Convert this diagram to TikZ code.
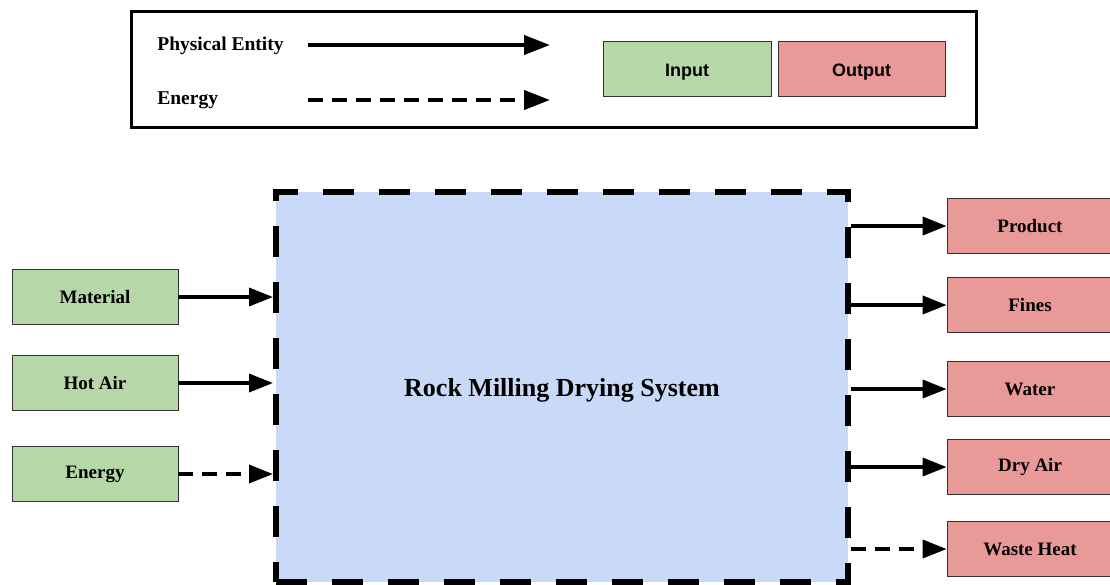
\documentclass[tikz,border=0pt]{standalone}
\usepackage{fontspec}
\setmainfont{Liberation Serif}
\setsansfont{Liberation Sans}
\usetikzlibrary{arrows.meta}

\tikzset{every picture/.style={line width=0.75pt}}
\tikzset{
	inbox/.style={draw={rgb, 255:red, 51; green, 51; blue, 51 }, fill={rgb, 255:red, 182; green, 215; blue, 168 }, minimum width=166pt, minimum height=55pt, inner sep=0pt, font=\fontsize{19}{22}\selectfont\bfseries},
	outbox/.style={inbox, fill={rgb, 255:red, 234; green, 153; blue, 153 }},
	keybox/.style={text height=18pt, text depth=2pt, font=\fontsize{18}{21}\selectfont\sffamily\bfseries},
	keytext/.style={anchor=west, inner sep=0pt, font=\fontsize{19.5}{22}\selectfont\bfseries},
	flow/.style={-{Triangle[length=24pt,width=18pt]}, line width=3.5pt},
	eflow/.style={flow, dash pattern=on 15pt off 9pt},
}

\begin{document}
\begin{tikzpicture}[x=1pt,y=-1pt]
	\useasboundingbox (0,0) rectangle (1110,584);
	
	%Legend frame
	\draw [line width=3pt] (131,11) rectangle (976,127) ;
	% Text Node
	\node [keytext] (lgphys) at (157,46) {Physical Entity};
	% Text Node
	\node [keytext] (lgener) at (157,100) {Energy};
	\coordinate (lgphysA) at (308,45);
	\coordinate (lgphysB) at (550,45);
	\coordinate (lgenerA) at (308,100);
	\coordinate (lgenerB) at (550,100);
	%Straight Lines
	\draw [flow, line width=4pt, -{Triangle[length=26pt,width=19pt]}] (lgphysA) -- (lgphysB) ;
	\draw [eflow, line width=4pt, -{Triangle[length=26pt,width=19pt]}] (lgenerA) -- (lgenerB) ;
	\node [inbox, keybox, minimum width=168pt] (lgin) at (687,68.5) {Input};
	\node [outbox, keybox, minimum width=167pt] (lgout) at (861.5,68.5) {Output};
	
	%System box
	\node [draw, fill={rgb, 255:red, 201; green, 218; blue, 248 }, line width=6pt, dash pattern=on 31pt off 25pt, minimum width=572pt, minimum height=390pt] (sys) at (562,387) {};
	% Text Node
	\node [inner sep=0pt, font=\fontsize{26}{30}\selectfont\bfseries] (sysname) at (562,390) {Rock Milling Drying System};
	
	%Inputs
	\node [inbox] (mat) at (95,297) {Material};
	\node [inbox] (hot) at (95,383) {Hot Air};
	\node [inbox] (ener) at (95,474) {Energy};
	
	%Outputs
	\node [outbox] (prod) at (1030,226) {Product};
	\node [outbox] (fine) at (1030,305) {Fines};
	\node [outbox] (wat) at (1030,389) {Water};
	\node [outbox] (dry) at (1030,467) {Dry Air};
	\node [outbox] (heat) at (1030,549) {Waste Heat};
	
	%Straight Lines
	\draw [flow] (mat.east) -- (sys.west |- mat.east) ;
	\draw [flow] (hot.east) -- (sys.west |- hot.east) ;
	\draw [eflow] (ener.east) -- (sys.west |- ener.east) ;
	\draw [flow] (sys.east |- prod.west) -- (prod.west) ;
	\draw [flow] (sys.east |- fine.west) -- (fine.west) ;
	\draw [flow] (sys.east |- wat.west) -- (wat.west) ;
	\draw [flow] (sys.east |- dry.west) -- (dry.west) ;
	\draw [eflow] (sys.east |- heat.west) -- (heat.west) ;
	
\end{tikzpicture}
\end{document}
